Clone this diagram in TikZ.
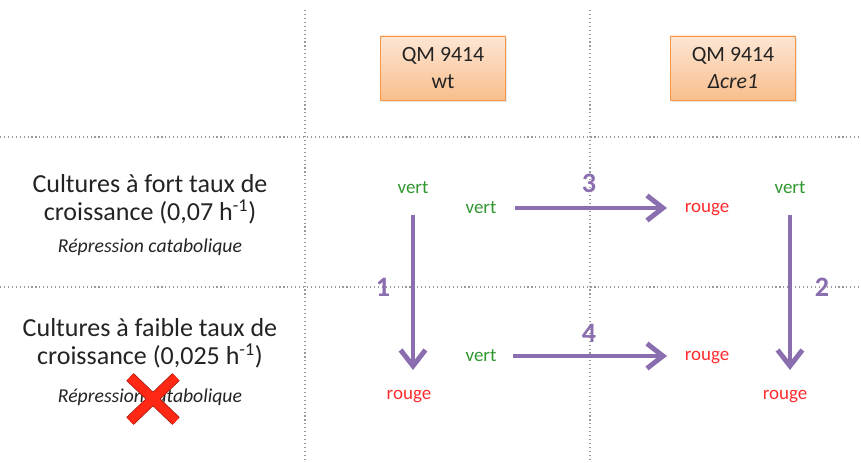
\documentclass[tikz,border=0pt]{standalone}
\usepackage{fontspec}
\setmainfont{Carlito}
\usetikzlibrary{arrows.meta,shadows,positioning,calc}

\definecolor{arrowpurple}{RGB}{138,110,176}
\definecolor{txtgreen}{RGB}{48,150,48}
\definecolor{txtred}{RGB}{255,45,45}
\definecolor{boxedge}{RGB}{247,150,70}
\definecolor{boxtop}{RGB}{253,230,212}
\definecolor{boxbot}{RGB}{249,190,140}
\definecolor{txtdark}{RGB}{35,35,35}

\tikzset{
  strain/.style={draw=boxedge, line width=0.6pt, top color=boxtop, bottom color=boxbot,
    minimum width=3.125cm, minimum height=1.6cm, align=center, text=txtdark,
    font=\fontsize{15.5}{19}\selectfont,
    drop shadow={opacity=0.2, shadow xshift=0.04cm, shadow yshift=-0.05cm}},
  vertlbl/.style={text=txtgreen, font=\fontsize{13.5}{16}\selectfont},
  rougelbl/.style={text=txtred, font=\fontsize{13.5}{16}\selectfont},
  cond/.style={align=center, text=txtdark, font=\fontsize{18.5}{20}\selectfont},
  repr/.style={text=txtdark, font=\fontsize{14}{16}\itshape},
  num/.style={text=arrowpurple, font=\fontsize{20}{22}\bfseries},
  flow/.style={arrowpurple, line width=3.5pt, -{Straight Barb[length=0.4cm, width=0.62cm]}},
  grid line/.style={dotted, gray!80, line width=0.8pt}
}

\begin{document}
\begin{tikzpicture}
  \useasboundingbox (0,0) rectangle (21.525,11.575);

  % dotted grid
  \draw[grid line] (7.625,11.325) -- (7.625,0);
  \draw[grid line] (14.75,11.325) -- (14.75,0);
  \draw[grid line] (0,8.15) -- (21.525,8.15);
  \draw[grid line] (0,4.4) -- (21.525,4.4);

  % strains
  \node [strain] (wt) at (11.075,9.875) {QM 9414\\wt};
  \node [strain] (cre) at (18.325,9.875) {QM 9414\\\textit{Δcre1}};

  % conditions
  \node [cond] (fort) at (3.75,6.6) {Cultures à fort taux de\\croissance (0,07 h\textsuperscript{-1})};
  \node [repr] (rep1) at (3.75,5.4) {Répression catabolique};
  \node [cond] (faible) at (3.75,3.0) {Cultures à faible taux de\\croissance (0,025 h\textsuperscript{-1})};
  \node [repr] (rep2) at (3.75,1.65) {Répression catabolique};

  % red cross
  \draw [draw={rgb,255:red,150;green,20;blue,10}, line width=0.5pt, double={rgb,255:red,255;green,40;blue,20}, double distance=6.5pt]
    (3.25,2.15) -- (4.4,1.05) (3.25,1.05) -- (4.4,2.15);

  % colours
  \node [vertlbl] (vA) at (10.325,6.875) {vert};
  \node [rougelbl] (rA) at (10.225,1.65) {rouge};
  \node [vertlbl] (vB) at (12.025,6.375) {vert};
  \node [rougelbl] (rB) at (17.675,6.325) {rouge};
  \node [vertlbl] (vC) at (19.75,6.875) {vert};
  \node [rougelbl] (rC) at (19.625,1.65) {rouge};
  \node [vertlbl] (vD) at (12.025,2.675) {vert};
  \node [rougelbl] (rD) at (17.675,2.625) {rouge};

  % transitions
  \draw [flow, shorten <=0.675cm, shorten >=0.675cm] (vA.center) -- (vA.center |- rA.center);
  \draw [flow, shorten <=0.675cm, shorten >=0.675cm] (vC.center) -- (vC.center |- rC.center);
  \draw [flow, shorten <=0.85cm, shorten >=1.0cm] (vB.center) -- (vB.center -| rB.center);
  \draw [flow, shorten <=0.8cm, shorten >=1.0cm] (vD.center) -- (vD.center -| rD.center);

  \node [num] (n1) at (9.575,4.4) {1};
  \node [num] (n2) at (20.55,4.4) {2};
  \node [num] (n3) at (14.725,7.0) {3};
  \node [num] (n4) at (14.725,3.25) {4};
\end{tikzpicture}
\end{document}
